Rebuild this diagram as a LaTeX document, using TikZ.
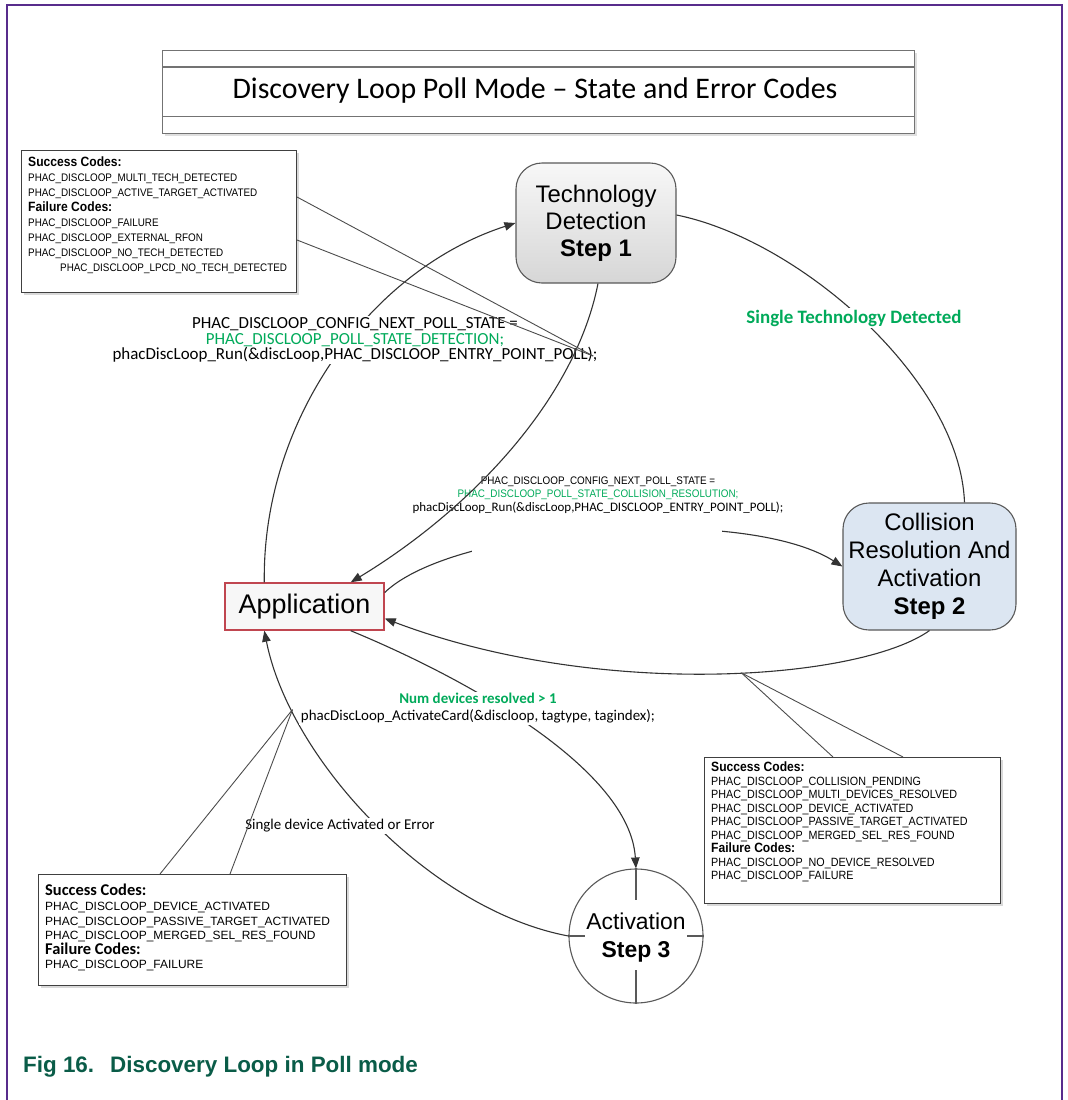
\documentclass[tikz,border=0pt]{standalone}
\usepackage{fontspec}
\setmainfont{Liberation Sans}
\newfontfamily\calfont{Carlito}
\newfontfamily\narrowfont[FakeStretch=0.9]{Liberation Sans}
\usetikzlibrary{arrows.meta,shadows}
\definecolor{framepurple}{RGB}{88,44,140}
\definecolor{capgreen}{RGB}{10,92,72}
\definecolor{lblgreen}{RGB}{0,170,90}
\definecolor{appred}{RGB}{192,70,80}
\definecolor{stepblue}{RGB}{220,230,242}
\newcommand{\hdr}[1]{{\bfseries\fontsize{13.5}{15}\selectfont #1}}
\newcommand{\chdr}[1]{{\calfont\bfseries\fontsize{16.5}{15}\selectfont #1}}
\begin{document}
\begin{tikzpicture}[x=1bp,y=-1bp,
  conn/.style={draw=black!80, line width=1.1bp},
  arr/.style={-{Triangle[length=11bp,width=8.5bp]}},
  calline/.style={draw=black!70, line width=0.9bp},
  callout/.style={draw=black!75, line width=1bp, fill=white, inner sep=0,
     drop shadow={shadow xshift=2bp, shadow yshift=-2bp, opacity=0.3}},
  stepbox/.style={rounded corners=26bp, draw=black!65, line width=1.1bp, align=center, inner sep=0,
     font=\fontsize{24}{27}\selectfont},
  codes/.style={align=left, inner sep=0, anchor=north west},
  lbl/.style={align=center, inner sep=1.5bp, fill=white},
  tick/.style={draw=black!65, line width=1.1bp}
]
\useasboundingbox (0,0) rectangle (1068,1100);
% frame
\draw[framepurple, line width=1.5bp] (7,1120) -- (7,5) -- (1062,5) -- (1062,1120);
% title
\node[draw=black!55, line width=1.2bp, fill=white, minimum width=752bp, minimum height=83bp, anchor=north west, inner sep=0,
      drop shadow={shadow xshift=2bp, shadow yshift=-2bp, opacity=0.25}] (title) at (162,50) {};
\draw[black!55, line width=1.2bp] ([yshift=-17bp]title.north west) -- ([yshift=-17bp]title.north east);
\draw[black!55, line width=1.2bp] ([yshift=18bp]title.south west) -- ([yshift=18bp]title.south east);
\node[font=\calfont\fontsize{30}{32}\selectfont, inner sep=0] (titletext) at (535,91) {Discovery Loop Poll Mode – State and Error Codes};

% state nodes
\node[stepbox, minimum width=160bp, minimum height=120bp, top color=black!3, bottom color=black!16] (s1) at (596,223)
  {Technology\\Detection\\\textbf{Step 1}};
\node[stepbox, minimum width=173bp, minimum height=127bp, fill=stepblue, font=\fontsize{24}{28}\selectfont] (s2) at (929.5,566.5)
  {Collision\\Resolution And\\Activation\\\textbf{Step 2}};
\node[draw=appred, line width=1.4bp, fill=black!3, minimum width=159bp, minimum height=47bp, inner sep=0,
      font=\fontsize{27}{30}\selectfont] (app) at (304.5,606.5) {Application};
\node[circle, draw=black!65, line width=1.1bp, fill=white, minimum size=134bp, inner sep=0] (s3) at (636,936) {};
\node[align=center, inner sep=0, font=\fontsize{23}{28}\selectfont] (s3t) at (636,938) {Activation\\\textbf{Step 3}};
\draw[tick] (s3.north) -- ++(0,32);
\draw[tick] (s3.south) -- ++(0,-34);
\draw[tick] (s3.west) -- ++(17,0);
\draw[tick] (s3.east) -- ++(-17,0);

% callout boxes
\node[callout, anchor=north west, minimum width=275bp, minimum height=142bp] (cb1) at (21,150) {};
\node[codes, font=\narrowfont\fontsize{11}{15}\selectfont] (cb1t) at (28,157) {%
\hdr{Success Codes:}\\
PHAC\_DISCLOOP\_MULTI\_TECH\_DETECTED\\
PHAC\_DISCLOOP\_ACTIVE\_TARGET\_ACTIVATED\\
\hdr{Failure Codes:}\\
PHAC\_DISCLOOP\_FAILURE\\
PHAC\_DISCLOOP\_EXTERNAL\_RFON\\
PHAC\_DISCLOOP\_NO\_TECH\_DETECTED\\
\hspace*{32bp}PHAC\_DISCLOOP\_LPCD\_NO\_TECH\_DETECTED};

\node[callout, anchor=north west, minimum width=296bp, minimum height=146bp] (cb2) at (704,757) {};
\node[codes, font=\narrowfont\fontsize{12}{13.5}\selectfont] (cb2t) at (711,762) {%
\hdr{Success Codes:}\\
PHAC\_DISCLOOP\_COLLISION\_PENDING\\
PHAC\_DISCLOOP\_MULTI\_DEVICES\_RESOLVED\\
PHAC\_DISCLOOP\_DEVICE\_ACTIVATED\\
PHAC\_DISCLOOP\_PASSIVE\_TARGET\_ACTIVATED\\
PHAC\_DISCLOOP\_MERGED\_SEL\_RES\_FOUND\\
\hdr{Failure Codes:}\\
PHAC\_DISCLOOP\_NO\_DEVICE\_RESOLVED\\
PHAC\_DISCLOOP\_FAILURE};

\node[callout, anchor=north west, minimum width=308bp, minimum height=111bp] (cb3) at (38,874) {};
\node[codes, font=\fontsize{12}{14.7}\selectfont] (cb3t) at (45,884) {%
\chdr{Success Codes:}\\
PHAC\_DISCLOOP\_DEVICE\_ACTIVATED\\
PHAC\_DISCLOOP\_PASSIVE\_TARGET\_ACTIVATED\\
PHAC\_DISCLOOP\_MERGED\_SEL\_RES\_FOUND\\
\chdr{Failure Codes:}\\
PHAC\_DISCLOOP\_FAILURE};

% connectors (under labels)
\draw[conn, arr] ([xshift=40bp]app.north west) .. controls (262,420) and (370,270) .. (s1.west);
\draw[conn] ([yshift=8bp]s1.east) .. controls (800,240) and (960,380) .. ([xshift=35bp]s2.north);
\draw[conn, arr] ([yshift=14bp]app.east) .. controls (455,525) and (745,505) .. (s2.west);
\draw[conn, arr] (s2.south) .. controls (860,680) and (600,700) .. coordinate[pos=0.45] (p4) ([yshift=-12bp]app.east);
\draw[conn, arr] ([xshift=-34bp]app.south east) .. controls (470,680) and (630,770) .. (s3.north);
\draw[conn, arr] (s3.west) .. controls (430,910) and (290,760) .. coordinate[pos=0.8] (p6) ([xshift=40bp]app.south west);

% labels
\node[lbl, font=\calfont\fontsize{17}{15.5}\selectfont] (l1) at (355,340)
  {PHAC\_DISCLOOP\_CONFIG\_NEXT\_POLL\_STATE =\\
   \textcolor{lblgreen}{PHAC\_DISCLOOP\_POLL\_STATE\_DETECTION;}\\
   phacDiscLoop\_Run(\&discLoop,PHAC\_DISCLOOP\_ENTRY\_POINT\_POLL);};
\node[lbl, font=\calfont\bfseries\fontsize{19}{21}\selectfont, text=lblgreen] (l3) at (854,318) {Single Technology Detected};
\node[fill=white, minimum width=250bp, minimum height=44bp, inner sep=0] (mask2) at (597,534) {};
\node[lbl, font=\narrowfont\fontsize{11}{13.5}\selectfont] (l2) at (598,495)
  {PHAC\_DISCLOOP\_CONFIG\_NEXT\_POLL\_STATE =\\
   \textcolor{lblgreen}{PHAC\_DISCLOOP\_POLL\_STATE\_COLLISION\_RESOLUTION;}\\
   {\calfont\fontsize{13}{13.5}\selectfont phacDiscLoop\_Run(\&discLoop,PHAC\_DISCLOOP\_ENTRY\_POINT\_POLL);}};
\node[lbl, font=\calfont\fontsize{15}{17}\selectfont] (l4) at (478,708)
  {\textcolor{lblgreen}{\bfseries Num devices resolved > 1}\\
   phacDiscLoop\_ActivateCard(\&discloop, tagtype, tagindex);};
\node[lbl, font=\calfont\fontsize{15}{18}\selectfont] (l5) at (340,826) {Single device Activated or Error};

% connector drawn over label 2
\draw[conn, arr] ([xshift=2bp]s1.south) .. controls (575,400) and (470,510) .. ([xshift=-34bp]app.north east);

% callout pointers
\coordinate (l1end) at ([xshift=-6bp,yshift=8bp]l1.south east);
\draw[calline] ([yshift=-47bp]cb1.north east) -- (l1end);
\draw[calline] ([yshift=-90bp]cb1.north east) -- (l1end);
\draw[calline] ([xshift=129bp]cb2.north west) -- (p4);
\draw[calline] ([xshift=199bp]cb2.north west) -- (p4);
\draw[calline] ([xshift=122bp]cb3.north west) -- (p6);
\draw[calline] ([xshift=192bp]cb3.north west) -- (p6);

% caption
\node[anchor=west, inner sep=0, text=capgreen, font=\bfseries\fontsize{22.5}{24}\selectfont] (cap) at (23,1067)
  {Fig 16.\hspace{16bp}Discovery Loop in Poll mode};
\end{tikzpicture}
\end{document}
